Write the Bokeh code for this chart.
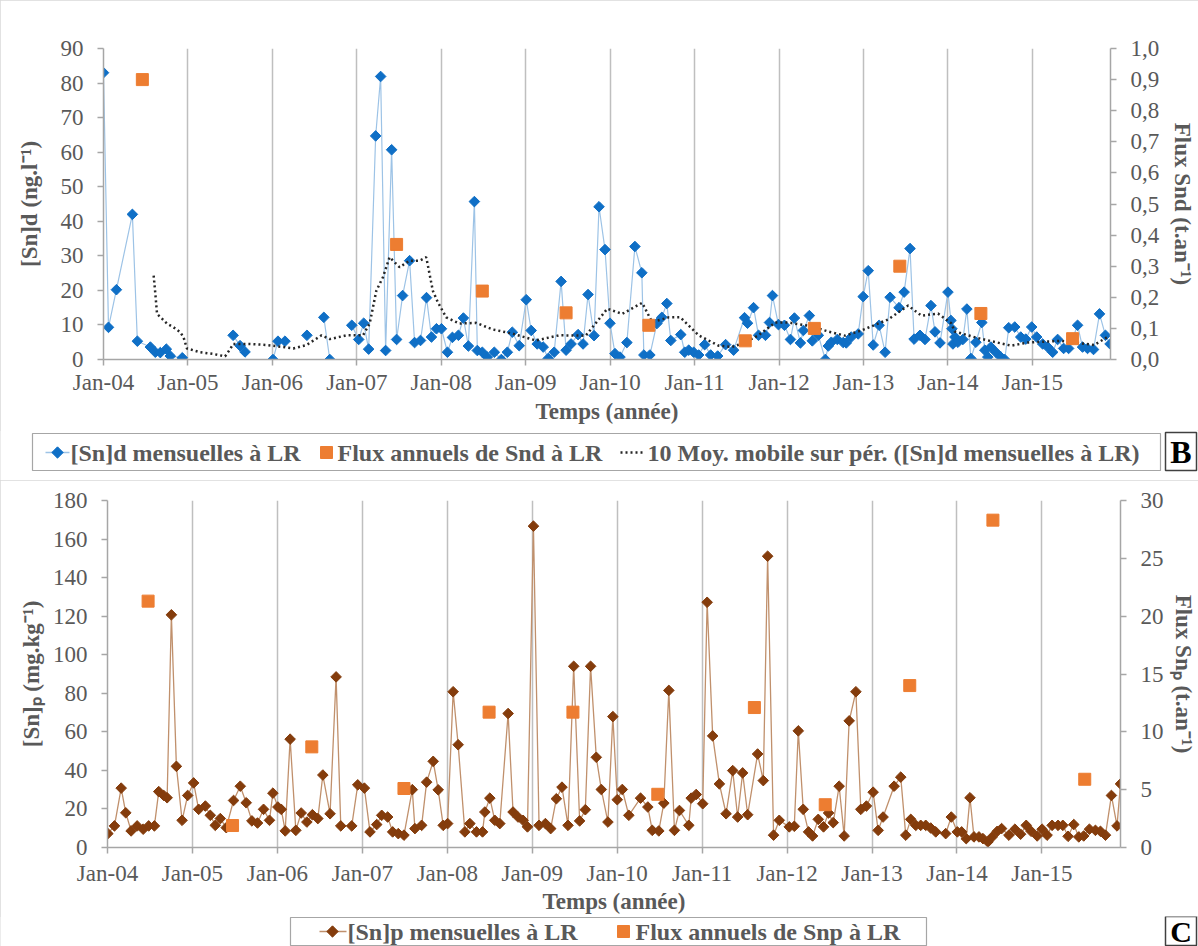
import numpy as np
from bokeh.plotting import figure
from bokeh.models import (Range1d, LinearAxis, FixedTicker, CustomJSTickFormatter,
                          ColumnDataSource)
from bokeh.core.properties import value
from bokeh.layouts import column
from bokeh.embed import file_html
from bokeh.resources import INLINE

nan = float("nan")
FONT = "Liberation Serif"

# ---------------- shared axis data ----------------
years = list(range(2004, 2016))
year_labels = ["Jan-04", "Jan-05", "Jan-06", "Jan-07", "Jan-08", "Jan-09",
               "Jan-10", "Jan-11", "Jan-12", "Jan-13", "Jan-14", "Jan-15"]

# ---------------- panel B : dissolved Sn ----------------
b_t = [2004.000, 2004.059, 2004.153, 2004.342, 2004.401, 2004.555, 2004.614, 2004.673,
       2004.744, 2004.791, 2004.933, 2005.2,
       2005.535, 2005.617, 2005.676, 2005.85,
       2006.007, 2006.066, 2006.149, 2006.28,
       2006.409, 2006.5,
       2006.609, 2006.680, 2006.8,
       2006.940, 2007.022, 2007.081, 2007.140, 2007.223, 2007.282, 2007.341, 2007.412,
       2007.471, 2007.542, 2007.625, 2007.684, 2007.754, 2007.825, 2007.884, 2007.943,
       2008.002, 2008.073, 2008.132, 2008.203, 2008.262, 2008.321, 2008.392, 2008.427,
       2008.486, 2008.545, 2008.628, 2008.711, 2008.782, 2008.841, 2008.923, 2009.006,
       2009.065, 2009.136, 2009.207, 2009.266, 2009.337, 2009.419, 2009.478, 2009.537,
       2009.620, 2009.679, 2009.738, 2009.809, 2009.868, 2009.939, 2009.998, 2010.057,
       2010.116, 2010.198, 2010.293, 2010.375, 2010.399, 2010.470, 2010.553, 2010.612,
       2010.671, 2010.718, 2010.836, 2010.883, 2010.930, 2010.989, 2011.048, 2011.119,
       2011.190, 2011.273, 2011.367, 2011.462, 2011.591, 2011.627, 2011.698, 2011.757,
       2011.839, 2011.887, 2011.922, 2011.993, 2012.064, 2012.135, 2012.182, 2012.253,
       2012.288, 2012.359, 2012.394, 2012.465, 2012.548, 2012.583, 2012.619, 2012.690,
       2012.760, 2012.796, 2012.855, 2012.937, 2012.996, 2013.056, 2013.115, 2013.185,
       2013.256, 2013.315, 2013.421, 2013.481, 2013.551, 2013.599, 2013.669, 2013.728,
       2013.799, 2013.847, 2013.906, 2014.000, 2014.035, 2014.047, 2014.059, 2014.083,
       2014.118, 2014.177, 2014.224, 2014.272, 2014.331, 2014.401, 2014.437, 2014.472,
       2014.508, 2014.567, 2014.626, 2014.673, 2014.720, 2014.791, 2014.862, 2014.921,
       2014.992, 2015.051, 2015.122, 2015.181, 2015.240, 2015.299, 2015.370, 2015.429,
       2015.476, 2015.535, 2015.594, 2015.653, 2015.724, 2015.795, 2015.865, 2015.920]
b_sn = [83.0, 9.3, 20.2, 42.0, 5.3, 3.6, 2.1, 2.0,
        3.0, 1.0, 0.5, nan,
        7.0, 4.0, 2.2, nan,
        0.0, 5.3, 5.3, nan,
        7.0, nan,
        12.2, 0.0, nan,
        9.9, 5.8, 10.5, 3.0, 64.7, 81.9, 2.6, 60.7,
        5.8, 18.5, 28.6, 4.9, 5.5, 17.9, 6.5, 8.9,
        8.9, 2.1, 6.4, 7.0, 12.0, 3.9, 45.7, 2.6,
        2.1, 0.7, 2.1, 0.0, 2.1, 7.9, 4.0, 17.3,
        8.4, 4.5, 3.6, 0.3, 2.1, 22.6, 2.7, 4.5,
        7.2, 4.5, 18.8, 6.9, 44.2, 31.8, 10.5, 1.7,
        0.7, 4.9, 32.7, 25.1, 1.3, 1.3, 10.4, 12.2,
        16.2, 5.5, 7.2, 2.1, 2.7, 2.1, 1.3, 4.3,
        1.3, 1.0, 4.3, 2.7, 12.1, 10.5, 15.0, 7.0,
        7.0, 10.7, 18.5, 10.1, 9.9, 5.8, 12.0, 4.8,
        8.4, 12.7, 5.4, 7.0, 0.0, 3.9, 5.0, 5.8,
        4.9, 4.8, 6.5, 7.4, 18.2, 25.7, 4.2, 9.9,
        2.1, 18.0, 15.0, 19.5, 32.1, 5.9, 7.0, 5.8,
        15.6, 8.0, 4.8, 19.5, 11.3, 8.9, 4.5, 6.5,
        5.0, 5.8, 14.6, 0.3, 5.0, 10.7, 2.7, 0.7,
        3.6, 2.1, 0.7, 0.0, 9.2, 9.4, 6.5, 5.9,
        9.4, 6.5, 4.5, 3.6, 2.1, 5.8, 3.2, 3.2,
        6.0, 9.9, 3.6, 3.2, 2.9, 13.2, 7.0, 4.5]

# 10-period moving average as drawn in the original
b_ma_t = [2004.594, 2004.614, 2004.634, 2004.693, 2004.752, 2004.830, 2004.909, 2004.948,
          2004.988, 2005.145, 2005.302, 2005.440, 2005.499, 2005.538, 2005.736, 2005.933,
          2006.129, 2006.247, 2006.405, 2006.582, 2006.680, 2006.877, 2007.073, 2007.152,
          2007.231, 2007.309, 2007.388, 2007.506, 2007.625, 2007.743, 2007.822, 2007.900,
          2007.959, 2008.058, 2008.215, 2008.412, 2008.608, 2008.841, 2009.120, 2009.396,
          2009.711, 2009.966, 2010.143, 2010.379, 2010.497, 2010.694, 2010.832, 2011.048,
          2011.284, 2011.442, 2011.600, 2011.757, 2011.954, 2012.111, 2012.386, 2012.583,
          2012.780, 2012.976, 2013.292, 2013.528, 2013.685, 2013.882, 2014.039, 2014.079,
          2014.354, 2014.747, 2014.945, 2015.338, 2015.732, 2015.889]
b_ma = [24.3, 19.0, 13.2, 11.8, 10.4, 9.3, 7.9, 6.4,
        3.2, 2.1, 1.6, 0.9, 3.0, 4.5, 4.5, 4.2,
        3.6, 3.2, 4.2, 7.0, 5.9, 7.0, 7.0, 10.4,
        19.9, 23.8, 29.6, 26.7, 28.6, 28.6, 29.6, 19.9,
        16.6, 12.2, 10.4, 10.6, 8.7, 7.5, 5.5, 7.0,
        6.9, 14.7, 13.2, 16.4, 10.8, 12.2, 12.2, 7.0,
        4.0, 3.6, 5.0, 7.0, 10.7, 10.7, 9.6, 8.1,
        6.9, 8.4, 11.6, 15.6, 12.7, 13.3, 10.5, 8.1,
        6.2, 4.0, 4.9, 5.4, 4.2, 6.5]

b_flux_t = [2004.460, 2007.471, 2008.486, 2009.478, 2010.458,
            2011.600, 2012.418, 2013.430, 2014.390, 2015.476]
b_flux = [0.90, 0.37, 0.22, 0.15, 0.11, 0.06, 0.10, 0.30, 0.148, 0.067]

b_left_ticks = [0, 10, 20, 30, 40, 50, 60, 70, 80, 90]
b_right_ticks = [0.0, 0.1, 0.2, 0.3, 0.4, 0.5, 0.6, 0.7, 0.8, 0.9, 1.0]
b_legend_labels = ["[Sn]d mensuelles à LR", "Flux annuels de Snd à LR",
                   "10 Moy. mobile sur pér. ([Sn]d mensuelles à LR)"]

# ---------------- panel C : particulate Sn ----------------
c_t = [2004.004, 2004.082, 2004.161, 2004.215, 2004.278, 2004.349, 2004.420, 2004.485,
       2004.552, 2004.603, 2004.662, 2004.702, 2004.752, 2004.811, 2004.878, 2004.944,
       2005.014, 2005.073, 2005.152, 2005.210, 2005.269, 2005.328, 2005.398, 2005.484,
       2005.563, 2005.633, 2005.700, 2005.766, 2005.837, 2005.907, 2005.947, 2006.006,
       2006.045, 2006.092, 2006.150, 2006.217, 2006.280, 2006.347, 2006.412, 2006.476,
       2006.535, 2006.620, 2006.691, 2006.746, 2006.875, 2006.946, 2007.024, 2007.090,
       2007.169, 2007.228, 2007.298, 2007.357, 2007.423, 2007.490, 2007.588, 2007.619,
       2007.698, 2007.757, 2007.834, 2007.893, 2007.952, 2008.004, 2008.069, 2008.128,
       2008.207, 2008.266, 2008.344, 2008.415, 2008.442, 2008.501, 2008.559, 2008.618,
       2008.716, 2008.774, 2008.833, 2008.892, 2008.944, 2009.014, 2009.080, 2009.155,
       2009.217, 2009.284, 2009.350, 2009.421, 2009.488, 2009.558, 2009.625, 2009.687,
       2009.754, 2009.813, 2009.891, 2009.949, 2010.001, 2010.060, 2010.137, 2010.275,
       2010.361, 2010.413, 2010.490, 2010.549, 2010.608, 2010.674, 2010.733, 2010.843,
       2010.871, 2010.930, 2011.007, 2011.059, 2011.124, 2011.203, 2011.282, 2011.360,
       2011.418, 2011.477, 2011.536, 2011.653, 2011.720, 2011.771, 2011.841, 2011.908,
       2012.026, 2012.085, 2012.132, 2012.190, 2012.253, 2012.300, 2012.367, 2012.429,
       2012.488, 2012.543, 2012.613, 2012.672, 2012.731, 2012.810, 2012.868, 2012.934,
       2013.013, 2013.072, 2013.130, 2013.260, 2013.338, 2013.397, 2013.456, 2013.515,
       2013.573, 2013.632, 2013.691, 2013.750, 2013.867, 2013.933, 2014.004, 2014.055,
       2014.109, 2014.153, 2014.200, 2014.259, 2014.306, 2014.364, 2014.415, 2014.474,
       2014.525, 2014.611, 2014.682, 2014.749, 2014.815, 2014.873, 2014.944, 2015.002,
       2015.061, 2015.120, 2015.190, 2015.246, 2015.308, 2015.375, 2015.434, 2015.492,
       2015.559, 2015.630, 2015.689, 2015.748, 2015.818, 2015.884, 2015.925]
c_sn = [7.2, 11.2, 30.8, 18.0, 8.6, 11.2, 9.5, 11.2,
        11.2, 29.0, 27.0, 25.8, 120.7, 42.1, 14.1, 27.0,
        33.5, 19.8, 21.5, 16.7, 11.5, 15.0, 10.3, 24.4,
        31.8, 23.2, 13.8, 12.7, 19.8, 14.1, 28.2, 21.0,
        19.8, 8.6, 56.2, 8.9, 17.9, 13.2, 17.0, 15.0,
        37.6, 17.5, 88.5, 11.2, 11.2, 32.5, 30.8, 8.1,
        11.9, 16.7, 15.8, 8.1, 7.2, 6.4, 30.0, 9.8,
        11.5, 33.9, 44.7, 29.9, 11.5, 12.4, 80.8, 53.3,
        8.1, 12.4, 8.1, 8.1, 18.4, 25.6, 14.1, 12.4,
        69.5, 18.4, 15.8, 14.1, 10.7, 166.7, 11.5, 12.4,
        9.8, 25.3, 31.3, 11.5, 94.0, 13.8, 19.6, 94.0,
        46.8, 30.1, 13.2, 67.9, 24.8, 30.1, 16.7, 25.6,
        21.0, 8.9, 8.6, 23.0, 81.5, 8.9, 19.2, 11.5,
        25.6, 27.5, 22.7, 127.2, 57.9, 33.0, 17.5, 39.9,
        15.8, 38.7, 17.0, 48.5, 34.7, 151.1, 6.4, 14.1,
        10.7, 11.0, 60.5, 19.8, 8.1, 6.0, 14.6, 10.7,
        17.9, 12.9, 31.8, 6.0, 65.7, 80.8, 19.8, 21.5,
        28.7, 8.9, 15.8, 31.8, 36.5, 6.4, 14.6, 11.5,
        11.5, 11.5, 10.1, 8.1, 7.2, 15.8, 8.1, 8.1,
        4.6, 25.8, 5.5, 5.5, 4.6, 2.9, 5.5, 8.4,
        9.8, 6.4, 9.5, 6.9, 11.5, 8.4, 6.0, 9.5,
        6.4, 11.5, 11.5, 11.5, 5.8, 11.9, 5.5, 6.0,
        9.5, 8.9, 8.4, 6.4, 27.0, 11.2, 33.0]

c_flux_t = [2004.478, 2005.472, 2006.405, 2007.490, 2008.492, 2009.479,
            2010.478, 2011.615, 2012.449, 2013.444, 2014.423, 2015.504]
c_flux = [21.3, 1.9, 8.7, 5.1, 11.7, 11.7, 4.6, 12.1, 3.7, 14.0, 28.3, 5.9]

c_left_ticks = [0, 20, 40, 60, 80, 100, 120, 140, 160, 180]
c_right_ticks = [0, 5, 10, 15, 20, 25, 30]
c_legend_labels = ["[Sn]p mensuelles à LR", "Flux annuels de Snp à LR"]

# ---------------- styling ----------------
GRID = "#BFBFBF"
AXIS = "#A6A6A6"
TXT = "#595959"
BLUE, BLUE_LINE = "#0F6FC6", "#9DC3E6"
BROWN, BROWN_LINE = "#843C0C", "#C0906C"
ORANGE = "#ED7D31"
DOT = "#262626"
W = 1198


def style_axis(ax, standoff, title_standoff):
    ax.axis_line_color = AXIS
    ax.axis_line_width = 1.5
    ax.major_tick_line_color = AXIS
    ax.major_tick_line_width = 1.5
    ax.major_tick_out = 6
    ax.major_tick_in = 0
    ax.minor_tick_line_color = None
    ax.major_label_text_font = FONT
    ax.major_label_text_font_size = "23px"
    ax.major_label_text_color = TXT
    ax.major_label_standoff = standoff
    ax.axis_label_text_font = FONT
    ax.axis_label_text_font_size = "23px"
    ax.axis_label_text_font_style = "bold"
    ax.axis_label_text_color = TXT
    ax.axis_label_standoff = title_standoff


def make_panel(h, mb, y_max, flux_max, left_ticks, right_ticks, ylabel, rlabel,
               stands):
    p = figure(width=W, height=h,
               x_range=Range1d(2004.0, 2015.925), y_range=Range1d(0, y_max),
               output_backend="svg", toolbar_location=None,
               min_border_left=mb[0], min_border_right=mb[1],
               min_border_top=mb[2], min_border_bottom=mb[3],
               background_fill_color="white", border_fill_color="white")
    p.outline_line_color = None
    p.extra_y_ranges = {"flux": Range1d(0, flux_max)}

    xa = p.xaxis[0]
    style_axis(xa, stands[0], stands[1])
    xa.ticker = FixedTicker(ticks=years)
    xa.major_label_overrides = dict(zip(years, year_labels))
    xa.axis_label = "Temps (année)"

    ya = p.yaxis[0]
    style_axis(ya, stands[2], stands[3])
    ya.ticker = FixedTicker(ticks=left_ticks)
    ya.axis_label = ylabel

    ra = LinearAxis(y_range_name="flux")
    style_axis(ra, stands[4], stands[5])
    ra.ticker = FixedTicker(ticks=right_ticks)
    ra.axis_label = rlabel
    p.add_layout(ra, "right")

    p.ygrid.grid_line_color = None
    p.xgrid.ticker = FixedTicker(ticks=years)
    p.xgrid.grid_line_color = GRID
    p.xgrid.grid_line_width = 1.5
    return p, ra


def legend_strip(h):
    # a strip in pixel coordinates that carries the legend box and the panel letter
    q = figure(width=W, height=h, x_range=Range1d(0, W), y_range=Range1d(0, h),
               output_backend="svg", toolbar_location=None, min_border=0,
               x_axis_location=None, y_axis_location=None,
               background_fill_color="white", border_fill_color="white")
    try:
        q.frame_align = False   # keep the strip's frame independent of the plot above
    except Exception:
        pass
    q.outline_line_color = None
    q.grid.visible = False
    return q


def legend_text(q, xs, y, labels):
    q.text(x=xs, y=[y] * len(xs), text=labels, text_font=value(FONT),
           text_font_size="24px", text_font_style="bold", text_color=TXT,
           text_baseline="middle", text_align="left")


def letter_box(q, left, right, bottom, top, letter, size):
    q.quad(left=[left], right=[right], bottom=[bottom], top=[top],
           fill_color="white", line_color="#404040", line_width=1.5)
    q.text(x=[(left + right) / 2], y=[(bottom + top) / 2], text=[letter],
           text_font=value(FONT), text_font_size=size, text_font_style="bold",
           text_color="black", text_align="center", text_baseline="middle")


# ---------------- figure B ----------------
pb, rb = make_panel(430, (103, 85, 48, 71), 90, 1.0, b_left_ticks, b_right_ticks,
                    "[Sn]d (ng.l\u207b\u00b9)", "Flux Snd (t.an\u207b\u00b9)",
                    (4, 1, 14, 16, 14, 8))
rb.formatter = CustomJSTickFormatter(code="return tick.toFixed(1).replace('.', ',');")

src_b = ColumnDataSource(dict(t=b_t, v=b_sn))
pb.line("t", "v", source=src_b, line_color=BLUE_LINE, line_width=1.2)
pb.scatter("t", "v", source=src_b, marker="square", angle=np.pi / 4, size=7.5,
           fill_color=BLUE, line_color=BLUE)
pb.line(b_ma_t, b_ma, line_color=DOT, line_width=2.5, line_dash="2 3")
pb.scatter(b_flux_t, b_flux, marker="square", size=12, fill_color=ORANGE,
           line_color=ORANGE, y_range_name="flux")

lb = legend_strip(50)
lb.quad(left=[32], right=[1160], bottom=[10], top=[47], fill_color="white",
        line_color=AXIS, line_width=1.2)
lb.line([45, 69], [28, 28], line_color=BLUE_LINE, line_width=1.5)
lb.scatter([57], [28], marker="square", angle=np.pi / 4, size=8, fill_color=BLUE,
           line_color=BLUE)
lb.scatter([326], [28], marker="square", size=12, fill_color=ORANGE, line_color=ORANGE)
lb.line([620, 644], [28, 28], line_color=DOT, line_width=2.5, line_dash="2 3")
legend_text(lb, [70, 337, 647], 28, b_legend_labels)
letter_box(lb, 1165, 1196, 10, 48, "B", "32px")

# ---------------- figure C ----------------
pc, rc = make_panel(436, (107, 76, 20, 67), 180, 30, c_left_ticks, c_right_ticks,
                    "[Sn]\u209a (mg.kg\u207b\u00b9)", "Flux Sn\u209a (t.an\u207b\u00b9)",
                    (7, 0, 14, 6, 14, 4))

src_c = ColumnDataSource(dict(t=c_t, v=c_sn))
pc.line("t", "v", source=src_c, line_color=BROWN_LINE, line_width=1.3)
pc.scatter("t", "v", source=src_c, marker="square", angle=np.pi / 4, size=7.5,
           fill_color=BROWN, line_color=BROWN)
pc.scatter(c_flux_t, c_flux, marker="square", size=12, fill_color=ORANGE,
           line_color=ORANGE, y_range_name="flux")

lc = legend_strip(30)
lc.quad(left=[290], right=[926], bottom=[1], top=[29], fill_color="white",
        line_color=AXIS, line_width=1.2)
lc.line([319, 346], [15, 15], line_color=BROWN_LINE, line_width=1.5)
lc.scatter([332], [15], marker="square", angle=np.pi / 4, size=8, fill_color=BROWN,
           line_color=BROWN)
lc.scatter([623], [15], marker="square", size=12, fill_color=ORANGE, line_color=ORANGE)
legend_text(lc, [347, 635], 15, c_legend_labels)
letter_box(lc, 1165, 1196, 1, 30, "C", "30px")

panel_style = {"outline": "1px solid #D9D9D9", "outline-offset": "-1px"}
layout = column(column(pb, lb, spacing=0, styles=panel_style),
                column(pc, lc, spacing=0, styles=panel_style), spacing=0)
open("out.html", "w").write(file_html(layout, INLINE))
